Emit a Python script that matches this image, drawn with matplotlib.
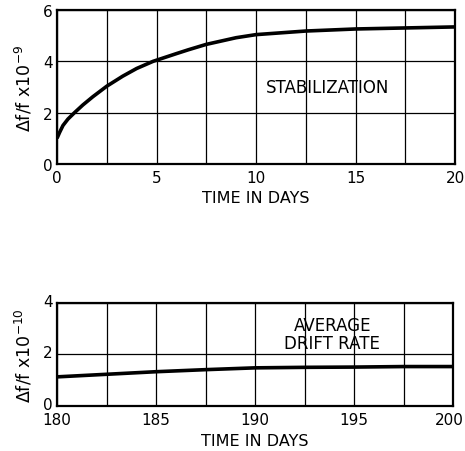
import matplotlib.pyplot as plt
import matplotlib.transforms as mtransforms
import numpy as np

# Stabilization curve (days 0-20), units of 1e-9
days_a = [0, 0.13, 0.3, 0.55, 0.88, 1.3, 1.8, 2.5, 3.3, 4.0, 4.83, 6.0, 6.6,
          7.5, 9, 10, 12.5, 15, 17.5, 20]
stab = [1.0, 1.23, 1.5, 1.75, 2.0, 2.3, 2.62, 3.03, 3.42, 3.72, 4.0, 4.3, 4.45,
        4.66, 4.92, 5.04, 5.18, 5.26, 5.30, 5.34]

# Average drift rate (days 180-200), units of 1e-10
days_b = [180, 182.5, 185, 187.5, 190, 192.5, 195, 197.5, 200]
drift = [1.13, 1.23, 1.33, 1.41, 1.48, 1.50, 1.51, 1.53, 1.53]

plt.rcParams['font.family'] = 'DejaVu Sans'
fig = plt.figure(figsize=(4.65, 4.52), dpi=100)

ax1 = fig.add_axes([0.1226, 0.635, 0.856, 0.3407])
ax2 = fig.add_axes([0.1226, 0.0996, 0.852, 0.228])


def style(ax):
    for s in ax.spines.values():
        s.set_linewidth(1.6)
    ax.tick_params(length=0, labelsize=11, pad=3)
    ax.tick_params(axis='x', pad=4)
    ax.grid(True, color='black', linewidth=0.9)
    ax.set_axisbelow(True)


ax1.plot(days_a, stab, color='black', linewidth=2.6, solid_capstyle='butt')
ax1.set_xlim(0, 20)
ax1.set_ylim(0, 6)
ax1.set_xticks(np.arange(0, 20.1, 2.5))
ax1.set_xticklabels(['0', '', '5', '', '10', '', '15', '', '20'])
ax1.set_yticks([0, 2, 4, 6])
style(ax1)
ax1.set_xlabel('TIME IN DAYS', fontsize=11.5)
ax1.set_ylabel(r'$\Delta$f/f x10$^{-9}$', fontsize=12.5, labelpad=6)
ax1.text(13.6, 3.0, 'STABILIZATION', fontsize=12, ha='center', va='center')

ax2.plot(days_b, drift, color='black', linewidth=2.6, solid_capstyle='butt')
ax2.set_xlim(180, 200)
ax2.set_ylim(0, 4)
ax2.set_xticks(np.arange(180, 200.1, 2.5))
ax2.set_xticklabels(['180', '', '185', '', '190', '', '195', '', '200'])
ax2.set_yticks([0, 2, 4])
style(ax2)
ax2.set_xlabel('TIME IN DAYS', fontsize=11.5, labelpad=5)
ax2.set_ylabel(r'$\Delta$f/f x10$^{-10}$', fontsize=12.5, labelpad=6)
ax2.text(193.9, 2.8, 'AVERAGE\nDRIFT RATE', fontsize=12, ha='center', va='center',
         linespacing=1.0)

# small nudges: lift the bottom y labels, pull the last x label inside
up = mtransforms.ScaledTranslation(0, 3 / 100, fig.dpi_scale_trans)
for lab in ax2.get_yticklabels():
    lab.set_transform(lab.get_transform() + up)
left = mtransforms.ScaledTranslation(-4 / 100, 0, fig.dpi_scale_trans)
last = ax2.get_xticklabels()[-1]
last.set_transform(last.get_transform() + left)

fig.savefig('out.png', dpi=100, facecolor='white')
